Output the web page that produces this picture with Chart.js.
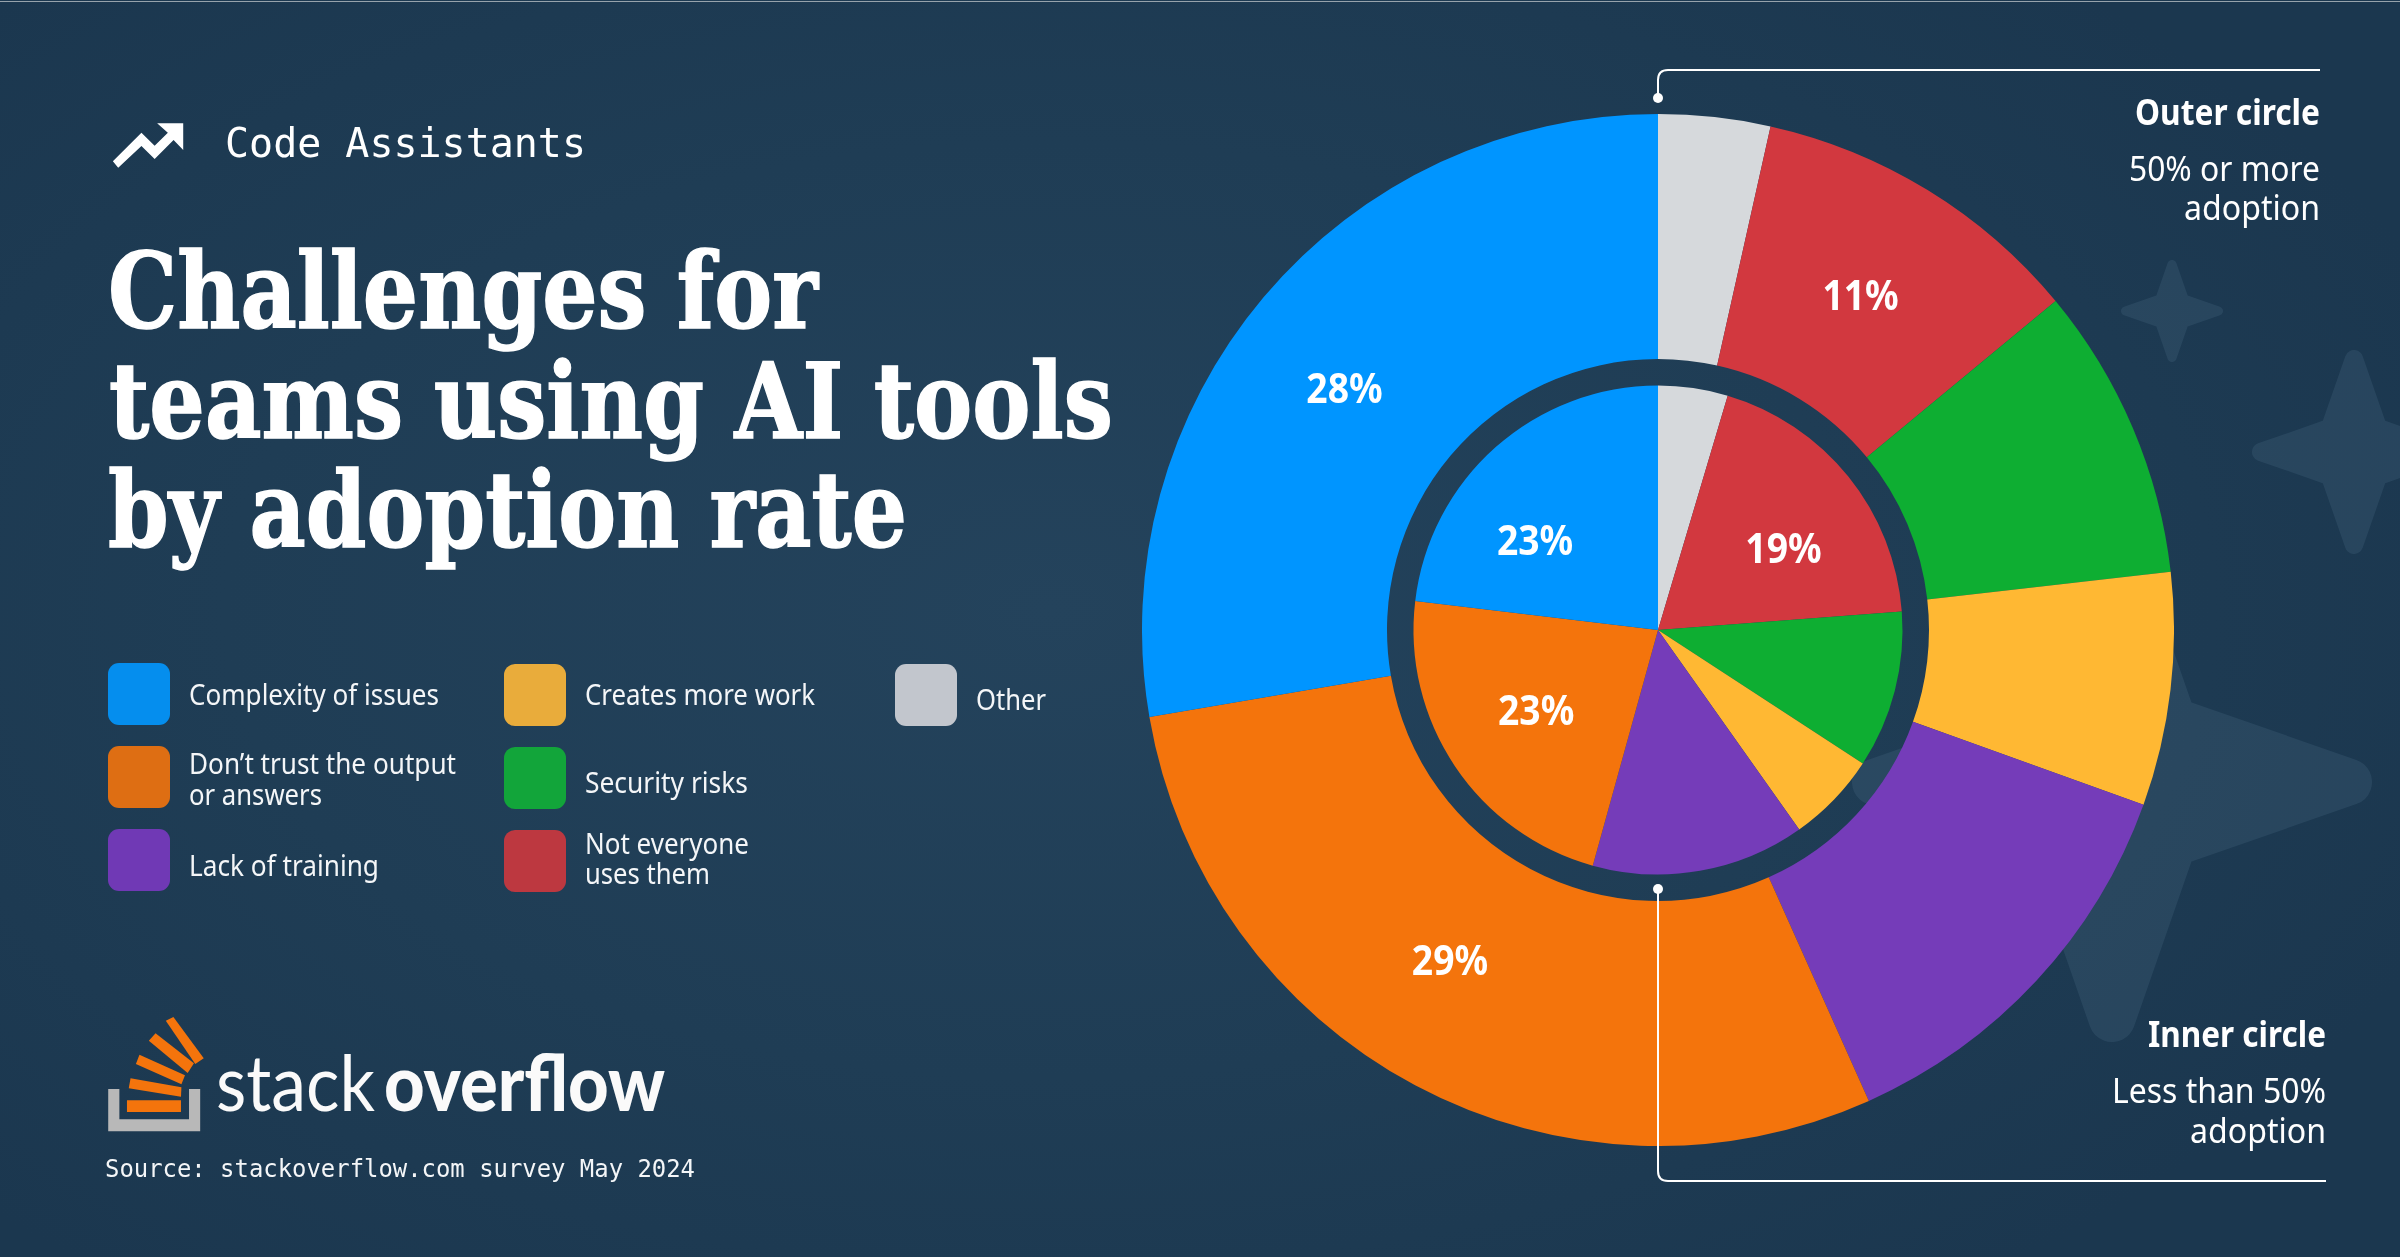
<!DOCTYPE html>
<html>
<head>
<meta charset="utf-8">
<title>Challenges for teams using AI tools by adoption rate</title>
<script src="https://cdn.jsdelivr.net/npm/chart.js@4"></script>
<style>
    html, body { margin: 0; padding: 0; }
    body {
        width: 2400px; height: 1257px; overflow: hidden; position: relative;
        background: radial-gradient(ellipse 1500px 850px at 1050px 610px, #24435c 0%, #1f3d55 55%, #1b374f 100%);
    }
    svg, canvas { position: absolute; display: block; }
    #perfomance-chart { left: 1142px; top: 114px; }
</style>
</head>
<body>
<svg id="back" width="2400" height="1257" style="left:0;top:0"></svg>
<canvas id="perfomance-chart" width="1032" height="1032" style="width:1032px;height:1032px"></canvas>
<svg id="front" width="2400" height="1257" style="left:0;top:0"></svg>

<script>
// clockwise from 12 o'clock, first slice is Other
const categories = ['Other', 'Not everyone uses them', 'Security risks', 'Creates more work', 'Lack of training', 'Don\u2019t trust the output or answers', 'Complexity of issues'];
const outer_values = [3.5, 10.5, 9.2, 7.3, 12.8, 29, 27.7];
const inner_values = [4.6, 19.2, 10.4, 6, 14.1, 22.6, 23.1];
const outer_labels = ['', '11%', '', '', '', '29%', '28%'];
const inner_labels = ['', '19%', '', '', '', '23%', '23%'];
const slice_colors = ['#d6d9dc', '#d2383f', '#0eae32', '#ffb833', '#753cb9', '#f4740c', '#0095ff'];

// hand placed percent labels: degrees around the ring, then pixels
const outer_nudge = [0, 0, 0, 0, 0, 4, -2];
const inner_nudge = [0, 5.5, 0, 0, 0, 0.7, -12.6];
const outer_shift = [null, [-3, 4], null, null, null, [1, 0], [-4, 4]];
const inner_shift = [null, [1, 3], null, null, null, [3, 2], [-2, 1]];

const SANS = '"Noto Sans", sans-serif';
const MONO = '"DejaVu Sans Mono", monospace';
const SLAB = '"DejaVu Serif", serif';
const NS = 'http://www.w3.org/2000/svg';
const back = document.getElementById('back');
const front = document.getElementById('front');


function add_text(str, x, y, size, weight, family, width, anchor, fill, thicken) {
    const t = document.createElementNS(NS, 'text');
    t.textContent = str;
    t.setAttribute('x', x);
    t.setAttribute('y', y);
    t.setAttribute('font-size', size);
    t.setAttribute('font-weight', weight);
    t.setAttribute('font-family', family);
    t.setAttribute('fill', fill || '#ffffff');
    t.setAttribute('text-anchor', anchor || 'start');
    if(thicken) {
        t.setAttribute('stroke', fill || '#ffffff');
        t.setAttribute('stroke-width', thicken);
    }
    if(width) {
        t.setAttribute('textLength', width);
        t.setAttribute('lengthAdjust', 'spacingAndGlyphs');
    }
    front.appendChild(t);
}


function add_shape(parent, tag, attrs) {
    const el = document.createElementNS(NS, tag);
    Object.keys(attrs).forEach(key => el.setAttribute(key, attrs[key]));
    parent.appendChild(el);
    return el;
}


// decorative stars behind the chart
function add_star(cx, cy, r) {
    const tip = r * 0.91;
    const waist = r * 0.235;
    const pts = [[0, -tip], [waist, -waist], [tip, 0], [waist, waist], [0, tip], [-waist, waist], [-tip, 0], [-waist, -waist]];
    add_shape(back, 'polygon', {
        points: pts.map(p => (cx + p[0]) + ',' + (cy + p[1])).join(' '),
        fill: '#4a6b84',
        stroke: '#4a6b84',
        'stroke-width': r * 0.18,
        'stroke-linejoin': 'round',
        opacity: 0.27
    });
}

add_star(2172, 311, 51);
add_star(2354, 452, 102);
add_star(2112, 782, 260);

// the image has a thin light edge along the top
add_shape(back, 'rect', { x: 0, y: 1, width: 2400, height: 1, fill: '#97a3ac' });


// header
add_text('Code Assistants', 225, 156.5, 40, 400, MONO, 361);
const arrow = add_shape(front, 'svg', { x: 60, y: 90, width: 560, height: 130, viewBox: '0 0 1568 390', preserveAspectRatio: 'none' });
add_shape(arrow, 'polygon', { points: '148,214 228,128 265,167 302,128 272,100 345,100 345,180 318,150 265,207 228,168 163,233', fill: '#ffffff' });

add_text('Challenges for', 108, 328, 104, 700, SLAB, 710, 'start', '#ffffff', 1.5);
add_text('teams using AI tools', 109, 438, 104, 700, SLAB, 1004, 'start', '#ffffff', 1.5);
add_text('by adoption rate', 108, 547, 104, 700, SLAB, 799, 'start', '#ffffff', 1.5);


// legend, built by hand because the original wraps its labels
const legend_items = [
    { color: '#058eee', x: 108, y: 663, lines: [['Complexity of issues', 705, 250]] },
    { color: '#de6e13', x: 108, y: 746, lines: [['Don\u2019t trust the output', 774, 267], ['or answers', 805, 133]] },
    { color: '#7039b5', x: 108, y: 829, lines: [['Lack of training', 875.5, 190]] },
    { color: '#e9ac3b', x: 504, y: 664, lines: [['Creates more work', 705, 230]] },
    { color: '#12a53a', x: 504, y: 747, lines: [['Security risks', 793, 163]] },
    { color: '#bd3840', x: 504, y: 830, lines: [['Not everyone', 854, 164], ['uses them', 884, 125]] },
    { color: '#c2c6cd', x: 895, y: 664, lines: [['Other', 710, 70]] }
];

legend_items.forEach(item => {
    add_shape(front, 'rect', { x: item.x, y: item.y, width: 62, height: 62, rx: 11, fill: item.color });
    const text_x = item.x === 895 ? 976 : item.x + 81;
    item.lines.forEach(line => add_text(line[0], text_x, line[1], 29, 400, SANS, line[2], 'start', '#f4f6f8'));
});


// logo
const logo = add_shape(front, 'svg', { x: 60, y: 980, width: 700, height: 220, viewBox: '0 0 1568 660', preserveAspectRatio: 'none' });
add_shape(logo, 'polygon', { points: '108,327 133,327 133,418 289,418 289,327 314,327 314,454 108,454', fill: '#b8b8b8' });
add_shape(logo, 'polygon', { points: '150,361 271,361 271,396 150,396', fill: '#f4740c' });
add_shape(logo, 'polygon', { points: '158,295 272,322 271,350 154,325', fill: '#f4740c' });
add_shape(logo, 'polygon', { points: '178,224 280,286 272,313 170,252', fill: '#f4740c' });
add_shape(logo, 'polygon', { points: '214,160 300,250 286,279 199,182', fill: '#f4740c' });
add_shape(logo, 'polygon', { points: '254,111 322,235 303,252 237,122', fill: '#f4740c' });
add_text('stack', 216, 1111, 78, 400, '"Lato", sans-serif', 159, 'start', '#fafafa');
add_text('overflow', 384, 1111, 78, 900, '"Lato", sans-serif', 281, 'start', '#fafafa');
add_text('Source: stackoverflow.com survey May 2024', 105, 1177, 24, 400, MONO, 590, 'start', '#f4f6f8');


// callouts
add_shape(front, 'path', { d: 'M1658 98 V80 Q1658 70 1668 70 H2320', fill: 'none', stroke: '#ffffff', 'stroke-width': 2 });
add_shape(front, 'circle', { cx: 1658, cy: 98, r: 5, fill: '#ffffff' });
add_shape(front, 'path', { d: 'M1658 889 V1171 Q1658 1181 1668 1181 H2326', fill: 'none', stroke: '#ffffff', 'stroke-width': 2 });
add_shape(front, 'circle', { cx: 1658, cy: 889, r: 5, fill: '#ffffff' });

add_text('Outer circle', 2320, 125, 35, 700, SANS, 185, 'end');
add_text('50% or more', 2320, 181, 35, 400, SANS, 191, 'end');
add_text('adoption', 2320, 220, 35, 400, SANS, 136, 'end');
add_text('Inner circle', 2326, 1047, 35, 700, SANS, 178, 'end');
add_text('Less than 50%', 2326, 1103, 35, 400, SANS, 214, 'end');
add_text('adoption', 2326, 1143, 35, 400, SANS, 136, 'end');


// percent labels on the rings, no datalabels plugin available here
const ring_labels = {
    id: 'ring_labels',
    afterDatasetsDraw(chart) {
        const ctx = chart.ctx;
        const rings = [
            { index: 0, labels: outer_labels, nudge: outer_nudge, shift: outer_shift, at: 0.5 },
            { index: 2, labels: inner_labels, nudge: inner_nudge, shift: inner_shift, at: 0.61 }
        ];
        ctx.save();
        ctx.fillStyle = '#ffffff';
        ctx.font = '700 41px "Noto Sans"';
        ctx.textAlign = 'center';
        ctx.textBaseline = 'middle';
        rings.forEach(ring => {
            chart.getDatasetMeta(ring.index).data.forEach((arc, i) => {
                if(!ring.labels[i]) {
                    return;
                }
                const mid = (arc.startAngle + arc.endAngle) / 2 + ring.nudge[i] * Math.PI / 180;
                const r = arc.innerRadius + (arc.outerRadius - arc.innerRadius) * ring.at;
                ctx.save();
                ctx.translate(arc.x + Math.cos(mid) * r + ring.shift[i][0], arc.y + Math.sin(mid) * r + ring.shift[i][1]);
                ctx.scale(0.91, 1);
                ctx.fillText(ring.labels[i], 0, 0);
                ctx.restore();
            });
        });
        ctx.restore();
    }
};

const canvas = document.getElementById('perfomance-chart');
var chart = new Chart(canvas, {
    type: 'doughnut',
    data: {
        labels: categories,
        datasets: [
            { label: 'Outer circle', data: outer_values, backgroundColor: slice_colors, borderWidth: 0, weight: 245 },
            // empty ring, only keeps the two circles apart
            { label: 'gap', data: [1], backgroundColor: 'rgba(0, 0, 0, 0)', borderWidth: 0, weight: 26.5 },
            { label: 'Inner circle', data: inner_values, backgroundColor: slice_colors, borderWidth: 0, weight: 244.5 }
        ]
    },
    options: {
        responsive: false,
        animation: false,
        cutout: 0,
        devicePixelRatio: 1,
        plugins: {
            legend: { display: false },
            tooltip: { enabled: false }
        }
    },
    plugins: [ring_labels]
});
</script>
</body>
</html>
